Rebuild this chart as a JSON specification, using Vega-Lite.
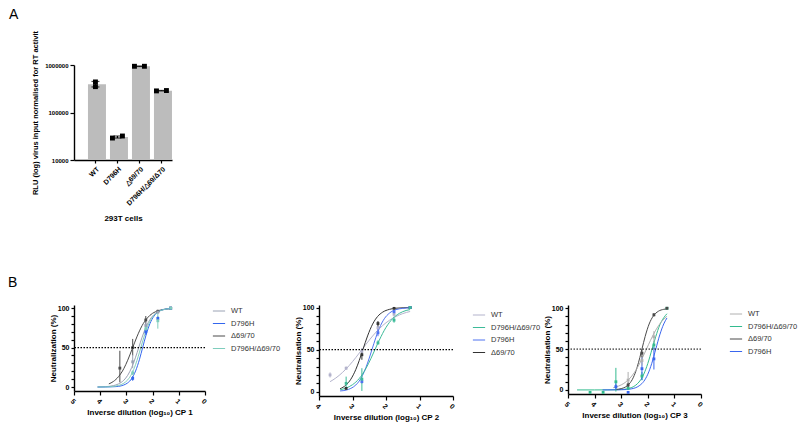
{
 "$schema": "https://vega.github.io/schema/vega-lite/v6.json",
 "padding": {"left": 8, "top": 8, "right": 0, "bottom": 0},
 "background": "white",
 "config": {
  "font": "Liberation Sans",
  "view": {"stroke": null},
  "axis": {"domainColor": "#000", "domainWidth": 1.4, "tickColor": "#000", "tickWidth": 1.2, "labelColor": "#000", "labelFontWeight": "bold", "labelFontSize": 7, "titleFontWeight": "bold", "titleFontSize": 8, "titleColor": "#000", "grid": false},
  "legend": {"labelFontSize": 7.5, "labelColor": "#333", "symbolType": "stroke", "symbolSize": 150, "symbolStrokeWidth": 1, "rowPadding": 1.5, "labelOffset": 5},
  "title": {"fontSize": 14, "fontWeight": "normal", "anchor": "start", "color": "#000"}
 },
 "datasets": {
  "bars": [
   {"cell": "WT", "rlu": 395000, "lo": 345000, "hi": 450000},
   {"cell": "D796H", "rlu": 30500, "lo": 29000, "hi": 32000},
   {"cell": "△69/70", "rlu": 940000, "lo": 930000, "hi": 950000},
   {"cell": "D796H/△69/Δ70", "rlu": 288000, "lo": 285000, "hi": 291000}
  ],
  "barpts": [
   {"cell": "WT", "pos": "C", "rlu": 440000},
   {"cell": "WT", "pos": "C", "rlu": 350000},
   {"cell": "D796H", "pos": "L", "rlu": 29000},
   {"cell": "D796H", "pos": "R", "rlu": 32000},
   {"cell": "△69/70", "pos": "L", "rlu": 940000},
   {"cell": "△69/70", "pos": "R", "rlu": 940000},
   {"cell": "D796H/△69/Δ70", "pos": "L", "rlu": 285000},
   {"cell": "D796H/△69/Δ70", "pos": "R", "rlu": 290000}
  ],
  "curves": [
   {"panel": 1, "series": "Δ69/70", "x": 3.67, "y": 4}, {"panel": 1, "series": "Δ69/70", "x": 3.5, "y": 7}, {"panel": 1, "series": "Δ69/70", "x": 3.3, "y": 13.2}, {"panel": 1, "series": "Δ69/70", "x": 3.1, "y": 23.3}, {"panel": 1, "series": "Δ69/70", "x": 2.95, "y": 34}, {"panel": 1, "series": "Δ69/70", "x": 2.76, "y": 50}, {"panel": 1, "series": "Δ69/70", "x": 2.6, "y": 63.6}, {"panel": 1, "series": "Δ69/70", "x": 2.4, "y": 77.9}, {"panel": 1, "series": "Δ69/70", "x": 2.2, "y": 87.6}, {"panel": 1, "series": "Δ69/70", "x": 2.0, "y": 93.5}, {"panel": 1, "series": "Δ69/70", "x": 1.8, "y": 96.6}, {"panel": 1, "series": "Δ69/70", "x": 1.6, "y": 98.3}, {"panel": 1, "series": "Δ69/70", "x": 1.31, "y": 99.4},
   {"panel": 1, "series": "WT", "x": 4.1, "y": 0.2}, {"panel": 1, "series": "WT", "x": 3.8, "y": 0.5}, {"panel": 1, "series": "WT", "x": 3.5, "y": 1.8}, {"panel": 1, "series": "WT", "x": 3.3, "y": 4}, {"panel": 1, "series": "WT", "x": 3.1, "y": 8.6}, {"panel": 1, "series": "WT", "x": 2.95, "y": 14.9}, {"panel": 1, "series": "WT", "x": 2.8, "y": 24.6}, {"panel": 1, "series": "WT", "x": 2.65, "y": 37.8}, {"panel": 1, "series": "WT", "x": 2.53, "y": 50}, {"panel": 1, "series": "WT", "x": 2.4, "y": 63.2}, {"panel": 1, "series": "WT", "x": 2.25, "y": 76.2}, {"panel": 1, "series": "WT", "x": 2.1, "y": 85.6}, {"panel": 1, "series": "WT", "x": 1.9, "y": 93.2}, {"panel": 1, "series": "WT", "x": 1.7, "y": 96.9}, {"panel": 1, "series": "WT", "x": 1.5, "y": 98.6}, {"panel": 1, "series": "WT", "x": 1.31, "y": 99.4},
   {"panel": 1, "series": "D796H", "x": 4.1, "y": 0}, {"panel": 1, "series": "D796H", "x": 3.8, "y": 0.1}, {"panel": 1, "series": "D796H", "x": 3.5, "y": 0.4}, {"panel": 1, "series": "D796H", "x": 3.3, "y": 0.9}, {"panel": 1, "series": "D796H", "x": 3.1, "y": 2.6}, {"panel": 1, "series": "D796H", "x": 2.95, "y": 5.3}, {"panel": 1, "series": "D796H", "x": 2.8, "y": 10.6}, {"panel": 1, "series": "D796H", "x": 2.65, "y": 20.3}, {"panel": 1, "series": "D796H", "x": 2.5, "y": 35.2}, {"panel": 1, "series": "D796H", "x": 2.38, "y": 50}, {"panel": 1, "series": "D796H", "x": 2.25, "y": 65.9}, {"panel": 1, "series": "D796H", "x": 2.1, "y": 80.5}, {"panel": 1, "series": "D796H", "x": 1.95, "y": 89.8}, {"panel": 1, "series": "D796H", "x": 1.8, "y": 95}, {"panel": 1, "series": "D796H", "x": 1.6, "y": 98.1}, {"panel": 1, "series": "D796H", "x": 1.31, "y": 99.6},
   {"panel": 1, "series": "D796H/Δ69/70", "x": 4.1, "y": 0.1}, {"panel": 1, "series": "D796H/Δ69/70", "x": 3.8, "y": 0.2}, {"panel": 1, "series": "D796H/Δ69/70", "x": 3.5, "y": 0.8}, {"panel": 1, "series": "D796H/Δ69/70", "x": 3.3, "y": 2}, {"panel": 1, "series": "D796H/Δ69/70", "x": 3.1, "y": 4.8}, {"panel": 1, "series": "D796H/Δ69/70", "x": 2.95, "y": 9.1}, {"panel": 1, "series": "D796H/Δ69/70", "x": 2.8, "y": 16.6}, {"panel": 1, "series": "D796H/Δ69/70", "x": 2.65, "y": 28.5}, {"panel": 1, "series": "D796H/Δ69/70", "x": 2.55, "y": 38.7}, {"panel": 1, "series": "D796H/Δ69/70", "x": 2.45, "y": 50}, {"panel": 1, "series": "D796H/Δ69/70", "x": 2.3, "y": 66.6}, {"panel": 1, "series": "D796H/Δ69/70", "x": 2.15, "y": 80}, {"panel": 1, "series": "D796H/Δ69/70", "x": 2.0, "y": 88.8}, {"panel": 1, "series": "D796H/Δ69/70", "x": 1.8, "y": 95.2}, {"panel": 1, "series": "D796H/Δ69/70", "x": 1.6, "y": 98}, {"panel": 1, "series": "D796H/Δ69/70", "x": 1.31, "y": 99.5},
   {"panel": 2, "series": "WT", "x": 3.67, "y": 12}, {"panel": 2, "series": "WT", "x": 3.5, "y": 16.3}, {"panel": 2, "series": "WT", "x": 3.3, "y": 22.9}, {"panel": 2, "series": "WT", "x": 3.1, "y": 31.1}, {"panel": 2, "series": "WT", "x": 2.9, "y": 40.7}, {"panel": 2, "series": "WT", "x": 2.72, "y": 50}, {"panel": 2, "series": "WT", "x": 2.5, "y": 61.3}, {"panel": 2, "series": "WT", "x": 2.3, "y": 70.7}, {"panel": 2, "series": "WT", "x": 2.1, "y": 78.6}, {"panel": 2, "series": "WT", "x": 1.9, "y": 84.8}, {"panel": 2, "series": "WT", "x": 1.7, "y": 89.4}, {"panel": 2, "series": "WT", "x": 1.5, "y": 92.8}, {"panel": 2, "series": "WT", "x": 1.28, "y": 95.3},
   {"panel": 2, "series": "Δ69/70", "x": 3.37, "y": 3.6}, {"panel": 2, "series": "Δ69/70", "x": 3.2, "y": 7.8}, {"panel": 2, "series": "Δ69/70", "x": 3.05, "y": 14.9}, {"panel": 2, "series": "Δ69/70", "x": 2.9, "y": 26.6}, {"panel": 2, "series": "Δ69/70", "x": 2.8, "y": 37}, {"panel": 2, "series": "Δ69/70", "x": 2.69, "y": 50}, {"panel": 2, "series": "Δ69/70", "x": 2.55, "y": 66.3}, {"panel": 2, "series": "Δ69/70", "x": 2.4, "y": 80.3}, {"panel": 2, "series": "Δ69/70", "x": 2.25, "y": 89.4}, {"panel": 2, "series": "Δ69/70", "x": 2.1, "y": 94.5}, {"panel": 2, "series": "Δ69/70", "x": 1.9, "y": 97.8}, {"panel": 2, "series": "Δ69/70", "x": 1.7, "y": 99.2}, {"panel": 2, "series": "Δ69/70", "x": 1.28, "y": 99.9},
   {"panel": 2, "series": "D796H", "x": 3.37, "y": 1}, {"panel": 2, "series": "D796H", "x": 3.19, "y": 2}, {"panel": 2, "series": "D796H", "x": 3.05, "y": 4}, {"panel": 2, "series": "D796H", "x": 2.9, "y": 8.1}, {"panel": 2, "series": "D796H", "x": 2.8, "y": 12.7}, {"panel": 2, "series": "D796H", "x": 2.7, "y": 19.5}, {"panel": 2, "series": "D796H", "x": 2.6, "y": 28.7}, {"panel": 2, "series": "D796H", "x": 2.5, "y": 40}, {"panel": 2, "series": "D796H", "x": 2.42, "y": 50}, {"panel": 2, "series": "D796H", "x": 2.3, "y": 64.7}, {"panel": 2, "series": "D796H", "x": 2.2, "y": 75.3}, {"panel": 2, "series": "D796H", "x": 2.05, "y": 86.7}, {"panel": 2, "series": "D796H", "x": 1.9, "y": 93.3}, {"panel": 2, "series": "D796H", "x": 1.7, "y": 97.5}, {"panel": 2, "series": "D796H", "x": 1.5, "y": 99}, {"panel": 2, "series": "D796H", "x": 1.28, "y": 99.7},
   {"panel": 2, "series": "D796H/Δ69/70", "x": 3.37, "y": 2.4}, {"panel": 2, "series": "D796H/Δ69/70", "x": 3.2, "y": 4.3}, {"panel": 2, "series": "D796H/Δ69/70", "x": 3.0, "y": 8.4}, {"panel": 2, "series": "D796H/Δ69/70", "x": 2.8, "y": 15.7}, {"panel": 2, "series": "D796H/Δ69/70", "x": 2.6, "y": 27.6}, {"panel": 2, "series": "D796H/Δ69/70", "x": 2.45, "y": 39.5}, {"panel": 2, "series": "D796H/Δ69/70", "x": 2.33, "y": 50}, {"panel": 2, "series": "D796H/Δ69/70", "x": 2.2, "y": 61.3}, {"panel": 2, "series": "D796H/Δ69/70", "x": 2.0, "y": 76.4}, {"panel": 2, "series": "D796H/Δ69/70", "x": 1.8, "y": 86.9}, {"panel": 2, "series": "D796H/Δ69/70", "x": 1.6, "y": 93.1}, {"panel": 2, "series": "D796H/Δ69/70", "x": 1.4, "y": 96.5}, {"panel": 2, "series": "D796H/Δ69/70", "x": 1.28, "y": 97.6},
   {"panel": 3, "series": "D796H/Δ69/70", "x": 4.66, "y": 0}, {"panel": 3, "series": "D796H/Δ69/70", "x": 4.0, "y": 0}, {"panel": 3, "series": "D796H/Δ69/70", "x": 3.5, "y": 0.05}, {"panel": 3, "series": "D796H/Δ69/70", "x": 3.2, "y": 0.2}, {"panel": 3, "series": "D796H/Δ69/70", "x": 3.0, "y": 0.5}, {"panel": 3, "series": "D796H/Δ69/70", "x": 2.8, "y": 1.2}, {"panel": 3, "series": "D796H/Δ69/70", "x": 2.6, "y": 3}, {"panel": 3, "series": "D796H/Δ69/70", "x": 2.45, "y": 5.9}, {"panel": 3, "series": "D796H/Δ69/70", "x": 2.3, "y": 10.9}, {"panel": 3, "series": "D796H/Δ69/70", "x": 2.15, "y": 19.4}, {"panel": 3, "series": "D796H/Δ69/70", "x": 2.0, "y": 32.4}, {"panel": 3, "series": "D796H/Δ69/70", "x": 1.84, "y": 50}, {"panel": 3, "series": "D796H/Δ69/70", "x": 1.7, "y": 65.3}, {"panel": 3, "series": "D796H/Δ69/70", "x": 1.55, "y": 79.6}, {"panel": 3, "series": "D796H/Δ69/70", "x": 1.4, "y": 88.4}, {"panel": 3, "series": "D796H/Δ69/70", "x": 1.28, "y": 93.3},
   {"panel": 3, "series": "D796H", "x": 3.7, "y": 0}, {"panel": 3, "series": "D796H", "x": 3.2, "y": 0.1}, {"panel": 3, "series": "D796H", "x": 3.0, "y": 0.2}, {"panel": 3, "series": "D796H", "x": 2.8, "y": 0.5}, {"panel": 3, "series": "D796H", "x": 2.6, "y": 1.4}, {"panel": 3, "series": "D796H", "x": 2.45, "y": 2.8}, {"panel": 3, "series": "D796H", "x": 2.3, "y": 5.6}, {"panel": 3, "series": "D796H", "x": 2.15, "y": 10.5}, {"panel": 3, "series": "D796H", "x": 2.0, "y": 19.2}, {"panel": 3, "series": "D796H", "x": 1.85, "y": 32.6}, {"panel": 3, "series": "D796H", "x": 1.7, "y": 50}, {"panel": 3, "series": "D796H", "x": 1.55, "y": 67.4}, {"panel": 3, "series": "D796H", "x": 1.4, "y": 80.8}, {"panel": 3, "series": "D796H", "x": 1.28, "y": 88.1},
   {"panel": 3, "series": "Δ69/70", "x": 3.2, "y": 0.6}, {"panel": 3, "series": "Δ69/70", "x": 3.0, "y": 1.6}, {"panel": 3, "series": "Δ69/70", "x": 2.85, "y": 3.4}, {"panel": 3, "series": "Δ69/70", "x": 2.7, "y": 7.3}, {"panel": 3, "series": "Δ69/70", "x": 2.55, "y": 14.8}, {"panel": 3, "series": "Δ69/70", "x": 2.4, "y": 27.8}, {"panel": 3, "series": "Δ69/70", "x": 2.3, "y": 39.6}, {"panel": 3, "series": "Δ69/70", "x": 2.22, "y": 50}, {"panel": 3, "series": "Δ69/70", "x": 2.1, "y": 65.4}, {"panel": 3, "series": "Δ69/70", "x": 1.95, "y": 80.7}, {"panel": 3, "series": "Δ69/70", "x": 1.8, "y": 90.2}, {"panel": 3, "series": "Δ69/70", "x": 1.6, "y": 96.4}, {"panel": 3, "series": "Δ69/70", "x": 1.4, "y": 98.7}, {"panel": 3, "series": "Δ69/70", "x": 1.28, "y": 99.3},
   {"panel": 3, "series": "WT", "x": 3.3, "y": 2.7}, {"panel": 3, "series": "WT", "x": 3.1, "y": 4.7}, {"panel": 3, "series": "WT", "x": 2.9, "y": 8}, {"panel": 3, "series": "WT", "x": 2.7, "y": 13.3}, {"panel": 3, "series": "WT", "x": 2.5, "y": 21.5}, {"panel": 3, "series": "WT", "x": 2.3, "y": 32.8}, {"panel": 3, "series": "WT", "x": 2.15, "y": 42.9}, {"panel": 3, "series": "WT", "x": 2.05, "y": 50}, {"panel": 3, "series": "WT", "x": 1.9, "y": 60.6}, {"panel": 3, "series": "WT", "x": 1.7, "y": 73.3}, {"panel": 3, "series": "WT", "x": 1.5, "y": 83}, {"panel": 3, "series": "WT", "x": 1.28, "y": 90.2}
  ],
  "points": [
   {"panel": 1, "series": "Δ69/70", "x": 3.25, "y": 24, "lo": 6, "hi": 46}, {"panel": 1, "series": "Δ69/70", "x": 2.76, "y": 50, "lo": 40, "hi": 61}, {"panel": 1, "series": "Δ69/70", "x": 2.26, "y": 85, "lo": 80, "hi": 90}, {"panel": 1, "series": "Δ69/70", "x": 1.8, "y": 96, "lo": 94, "hi": 98}, {"panel": 1, "series": "Δ69/70", "x": 1.31, "y": 100, "lo": 99, "hi": 100},
   {"panel": 1, "series": "WT", "x": 2.76, "y": 32, "lo": 24, "hi": 41}, {"panel": 1, "series": "WT", "x": 2.26, "y": 78, "lo": 74, "hi": 82}, {"panel": 1, "series": "WT", "x": 1.8, "y": 95, "lo": 93, "hi": 97}, {"panel": 1, "series": "WT", "x": 1.31, "y": 100, "lo": 99, "hi": 100},
   {"panel": 1, "series": "D796H", "x": 2.76, "y": 11, "lo": 8, "hi": 14}, {"panel": 1, "series": "D796H", "x": 2.26, "y": 70, "lo": 66, "hi": 74}, {"panel": 1, "series": "D796H", "x": 1.8, "y": 87, "lo": 84, "hi": 90}, {"panel": 1, "series": "D796H", "x": 1.31, "y": 100, "lo": 99, "hi": 100},
   {"panel": 1, "series": "D796H/Δ69/70", "x": 2.76, "y": 18, "lo": 15, "hi": 21}, {"panel": 1, "series": "D796H/Δ69/70", "x": 2.26, "y": 74, "lo": 71, "hi": 77}, {"panel": 1, "series": "D796H/Δ69/70", "x": 1.8, "y": 84, "lo": 74, "hi": 95}, {"panel": 1, "series": "D796H/Δ69/70", "x": 1.31, "y": 100, "lo": 99, "hi": 100},
   {"panel": 2, "series": "WT", "x": 3.67, "y": 20, "lo": 17, "hi": 23}, {"panel": 2, "series": "WT", "x": 3.19, "y": 28, "lo": 26, "hi": 30}, {"panel": 2, "series": "WT", "x": 2.72, "y": 48, "lo": 44, "hi": 52}, {"panel": 2, "series": "WT", "x": 2.24, "y": 76, "lo": 73, "hi": 79}, {"panel": 2, "series": "WT", "x": 1.76, "y": 92, "lo": 89, "hi": 95}, {"panel": 2, "series": "WT", "x": 1.28, "y": 100, "lo": 99, "hi": 100},
   {"panel": 2, "series": "Δ69/70", "x": 3.19, "y": 4, "lo": 3, "hi": 5}, {"panel": 2, "series": "Δ69/70", "x": 2.72, "y": 44, "lo": 38, "hi": 50}, {"panel": 2, "series": "Δ69/70", "x": 2.24, "y": 81, "lo": 77, "hi": 84}, {"panel": 2, "series": "Δ69/70", "x": 1.76, "y": 99, "lo": 98, "hi": 100}, {"panel": 2, "series": "Δ69/70", "x": 1.28, "y": 100, "lo": 99, "hi": 100},
   {"panel": 2, "series": "D796H", "x": 2.72, "y": 12, "lo": 10, "hi": 14}, {"panel": 2, "series": "D796H", "x": 2.24, "y": 70, "lo": 66, "hi": 75}, {"panel": 2, "series": "D796H", "x": 1.76, "y": 95, "lo": 93, "hi": 97}, {"panel": 2, "series": "D796H", "x": 1.28, "y": 100, "lo": 99, "hi": 100},
   {"panel": 2, "series": "D796H/Δ69/70", "x": 3.19, "y": 10, "lo": 4, "hi": 18}, {"panel": 2, "series": "D796H/Δ69/70", "x": 2.72, "y": 15, "lo": 1, "hi": 28}, {"panel": 2, "series": "D796H/Δ69/70", "x": 2.24, "y": 58, "lo": 56, "hi": 61}, {"panel": 2, "series": "D796H/Δ69/70", "x": 1.76, "y": 85, "lo": 82, "hi": 88}, {"panel": 2, "series": "D796H/Δ69/70", "x": 1.28, "y": 100, "lo": 99, "hi": 100},
   {"panel": 3, "series": "D796H/Δ69/70", "x": 4.17, "y": -3, "lo": -4, "hi": -2}, {"panel": 3, "series": "D796H/Δ69/70", "x": 3.68, "y": -3, "lo": -4, "hi": -2}, {"panel": 3, "series": "D796H/Δ69/70", "x": 3.2, "y": 10, "lo": -2, "hi": 27}, {"panel": 3, "series": "D796H/Δ69/70", "x": 2.74, "y": 2, "lo": 0, "hi": 5}, {"panel": 3, "series": "D796H/Δ69/70", "x": 2.22, "y": 17, "lo": 12, "hi": 22}, {"panel": 3, "series": "D796H/Δ69/70", "x": 1.77, "y": 55, "lo": 50, "hi": 60}, {"panel": 3, "series": "D796H/Δ69/70", "x": 1.28, "y": 100, "lo": 99, "hi": 100},
   {"panel": 3, "series": "D796H", "x": 3.2, "y": 4, "lo": 0, "hi": 8}, {"panel": 3, "series": "D796H", "x": 2.74, "y": -3, "lo": -4, "hi": -2}, {"panel": 3, "series": "D796H", "x": 2.22, "y": 26, "lo": 12, "hi": 40}, {"panel": 3, "series": "D796H", "x": 1.77, "y": 38, "lo": 25, "hi": 52},
   {"panel": 3, "series": "WT", "x": 2.74, "y": 12, "lo": 2, "hi": 22}, {"panel": 3, "series": "WT", "x": 2.22, "y": 36, "lo": 30, "hi": 42}, {"panel": 3, "series": "WT", "x": 1.77, "y": 65, "lo": 58, "hi": 72},
   {"panel": 3, "series": "Δ69/70", "x": 2.74, "y": 6, "lo": 3, "hi": 9}, {"panel": 3, "series": "Δ69/70", "x": 2.22, "y": 45, "lo": 40, "hi": 50}, {"panel": 3, "series": "Δ69/70", "x": 1.77, "y": 92, "lo": 90, "hi": 94}, {"panel": 3, "series": "Δ69/70", "x": 1.28, "y": 100, "lo": 99, "hi": 100}
  ]
 },
 "spacing": 53,
 "resolve": {"scale": {"x": "independent", "y": "independent", "color": "independent"}},
 "vconcat": [
  {
   "hconcat": [
    {
     "width": 98, "height": 95,
     "title": {"text": "A", "frame": "group", "dx": -65, "offset": 8},
     "layer": [
      {"data": {"name": "bars"}, "mark": {"type": "bar", "color": "#bcbcbc"},
       "encoding": {
        "x": {"field": "cell", "type": "nominal", "scale": {"domain": ["WT", "D796H", "△69/70", "D796H/△69/Δ70"], "paddingInner": 0.32, "paddingOuter": 0.387, "align": 0.82},
              "axis": {"title": "293T cells", "labelAngle": -45, "tickSize": 3, "titlePadding": 8, "labelFontSize": 7}},
        "y": {"field": "rlu", "type": "quantitative", "scale": {"type": "log", "domain": [10000, 1000000], "nice": false},
              "axis": {"title": "RLU (log) virus input normalised for RT activit", "values": [10000, 100000, 1000000], "format": "d", "tickSize": 4, "labelFontSize": 6, "titleFontSize": 7.5, "titlePadding": 5}},
        "y2": {"datum": 10000}
       }},
      {"data": {"name": "bars"}, "mark": {"type": "rule", "color": "#000", "strokeWidth": 1.2},
       "encoding": {"x": {"field": "cell", "type": "nominal"}, "y": {"field": "lo", "type": "quantitative"}, "y2": {"field": "hi"}}},
      {"data": {"name": "bars"}, "mark": {"type": "tick", "color": "#000", "thickness": 1.2, "size": 8},
       "encoding": {"x": {"field": "cell", "type": "nominal"}, "y": {"field": "hi", "type": "quantitative"}}},
      {"data": {"name": "bars"}, "mark": {"type": "tick", "color": "#000", "thickness": 1.2, "size": 8},
       "encoding": {"x": {"field": "cell", "type": "nominal"}, "y": {"field": "lo", "type": "quantitative"}}},
      {"data": {"name": "barpts"}, "mark": {"type": "point", "shape": "square", "filled": true, "color": "#000", "size": 24, "opacity": 1},
       "encoding": {"x": {"field": "cell", "type": "nominal"}, "xOffset": {"field": "pos", "type": "nominal", "scale": {"domain": ["L", "C", "R"]}}, "y": {"field": "rlu", "type": "quantitative"}}}
     ]
    }
   ]
  },
  {
   "spacing": 2,
   "resolve": {"scale": {"x": "independent", "y": "independent", "color": "independent"}, "legend": {"color": "independent"}},
   "hconcat": [
    {
     "width": 131, "height": 86,
     "title": {"text": "B", "frame": "group", "dx": -66, "offset": 3},
     "encoding": {
      "x": {"field": "x", "type": "quantitative", "scale": {"domain": [0, 5], "reverse": true, "nice": false, "zero": false},
            "axis": {"title": "Inverse dilution (log₁₀) CP 1", "values": [0, 1, 2, 3, 4, 5], "labelAngle": 45, "tickSize": 4, "titlePadding": 4}},
      "y": {"field": "y", "type": "quantitative", "scale": {"domain": [-5, 104], "nice": false, "zero": false},
            "axis": {"title": "Neutralization (%)", "values": [0, 10, 20, 30, 40, 50, 60, 70, 80, 90, 100], "labelExpr": "datum.value % 50 === 0 ? datum.label : ''", "tickSize": 3, "titlePadding": 0}},
      "color": {"field": "series", "type": "nominal", "scale": {"domain": ["WT", "D796H", "Δ69/70", "D796H/Δ69/70"], "range": ["#9aa2b4", "#3366ee", "#4a4a4a", "#7fcdbd"]},
                "legend": {"title": null, "orient": "none", "legendX": 127, "legendY": -12, "padding": 11}}
     },
     "layer": [
      {"data": {"name": "curves"}, "transform": [{"filter": "datum.panel === 1"}], "mark": {"type": "line", "interpolate": "monotone", "strokeWidth": 1}},
      {"data": {"name": "points"}, "transform": [{"filter": "datum.panel === 1"}], "mark": {"type": "rule", "strokeWidth": 1}, "encoding": {"y": {"field": "lo", "type": "quantitative"}, "y2": {"field": "hi"}}},
      {"data": {"name": "points"}, "transform": [{"filter": "datum.panel === 1"}], "mark": {"type": "point", "shape": "square", "filled": true, "size": 8, "opacity": 1}},
      {"data": {"values": [{"v": 50}]}, "mark": {"type": "rule", "strokeDash": [1.5, 1.5], "color": "#000", "strokeWidth": 1.2}, "encoding": {"y": {"field": "v", "type": "quantitative"}, "x": null, "color": null}}
     ]
    },
    {
     "width": 134, "height": 91,
     "encoding": {
      "x": {"field": "x", "type": "quantitative", "scale": {"domain": [0, 4], "reverse": true, "nice": false, "zero": false},
            "axis": {"title": "Inverse dilution (log₁₀) CP 2", "values": [0, 1, 2, 3, 4], "labelAngle": 45, "tickSize": 4, "titlePadding": 4}},
      "y": {"field": "y", "type": "quantitative", "scale": {"domain": [-5, 103], "nice": false, "zero": false},
            "axis": {"title": "Neutralisation (%)", "values": [0, 10, 20, 30, 40, 50, 60, 70, 80, 90, 100], "labelExpr": "datum.value % 50 === 0 ? datum.label : ''", "tickSize": 3, "titlePadding": 0}},
      "color": {"field": "series", "type": "nominal", "scale": {"domain": ["WT", "D796H/Δ69/70", "D796H", "Δ69/70"], "range": ["#b3b3cc", "#3dbb99", "#4f73f0", "#333333"]},
                "legend": {"title": null, "orient": "none", "legendX": 153, "legendY": 3}}
     },
     "layer": [
      {"data": {"name": "curves"}, "transform": [{"filter": "datum.panel === 2"}], "mark": {"type": "line", "interpolate": "monotone", "strokeWidth": 1}},
      {"data": {"name": "points"}, "transform": [{"filter": "datum.panel === 2"}], "mark": {"type": "rule", "strokeWidth": 1}, "encoding": {"y": {"field": "lo", "type": "quantitative"}, "y2": {"field": "hi"}}},
      {"data": {"name": "points"}, "transform": [{"filter": "datum.panel === 2"}], "mark": {"type": "point", "shape": "square", "filled": true, "size": 8, "opacity": 1}},
      {"data": {"values": [{"v": 50}]}, "mark": {"type": "rule", "strokeDash": [1.5, 1.5], "color": "#000", "strokeWidth": 1.2}, "encoding": {"y": {"field": "v", "type": "quantitative"}, "x": null, "color": null}}
     ]
    },
    {
     "width": 133, "height": 89,
     "encoding": {
      "x": {"field": "x", "type": "quantitative", "scale": {"domain": [0, 5], "reverse": true, "nice": false, "zero": false},
            "axis": {"title": "Inverse dilution (log₁₀) CP 3", "values": [0, 1, 2, 3, 4, 5], "labelAngle": 45, "tickSize": 4, "titlePadding": 4}},
      "y": {"field": "y", "type": "quantitative", "scale": {"domain": [-5, 104], "nice": false, "zero": false},
            "axis": {"title": "Neutralisation (%)", "values": [0, 10, 20, 30, 40, 50, 60, 70, 80, 90, 100], "labelExpr": "datum.value % 50 === 0 ? datum.label : ''", "tickSize": 3, "titlePadding": 0}},
      "color": {"field": "series", "type": "nominal", "scale": {"domain": ["WT", "D796H/Δ69/70", "Δ69/70", "D796H"], "range": ["#b0b0b0", "#33bb8f", "#4a4a4a", "#3a66ee"]},
                "legend": {"title": null, "orient": "none", "legendX": 161, "legendY": 2}}
     },
     "layer": [
      {"data": {"name": "curves"}, "transform": [{"filter": "datum.panel === 3"}], "mark": {"type": "line", "interpolate": "monotone", "strokeWidth": 1}},
      {"data": {"name": "points"}, "transform": [{"filter": "datum.panel === 3"}], "mark": {"type": "rule", "strokeWidth": 1}, "encoding": {"y": {"field": "lo", "type": "quantitative"}, "y2": {"field": "hi"}}},
      {"data": {"name": "points"}, "transform": [{"filter": "datum.panel === 3"}], "mark": {"type": "point", "shape": "square", "filled": true, "size": 8, "opacity": 1}},
      {"data": {"values": [{"v": 50}]}, "mark": {"type": "rule", "strokeDash": [1.5, 1.5], "color": "#000", "strokeWidth": 1}, "encoding": {"y": {"field": "v", "type": "quantitative"}, "x": null, "color": null}}
     ]
    }
   ]
  }
 ]
}
